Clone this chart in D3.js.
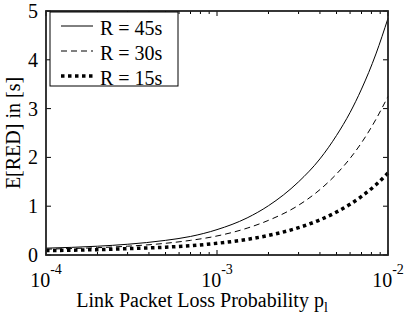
<!DOCTYPE html>
<html>
<head>
<meta charset="utf-8">
<script src="https://cdn.jsdelivr.net/npm/d3@7/dist/d3.min.js"></script>
<style>
  body { margin: 0; background: #fff; }
  svg text { font-family: "Liberation Serif", "Times New Roman", serif; fill: #000; }
</style>
</head>
<body>
<div id="chart"></div>
<script>
const pl = [1e-4, 2e-4, 3e-4, 5e-4, 7e-4, 1e-3, 1.5e-3, 2e-3, 3e-3, 4e-3, 5e-3, 6e-3, 7e-3, 8.5e-3, 1e-2];
const r45 = [0.14, 0.18, 0.22, 0.30, 0.38, 0.52, 0.76, 1.01, 1.50, 1.97, 2.45, 2.92, 3.40, 4.12, 4.85];
const r30 = [0.12, 0.15, 0.18, 0.24, 0.30, 0.39, 0.55, 0.71, 1.02, 1.34, 1.66, 1.98, 2.30, 2.78, 3.25];
const r15 = [0.09, 0.11, 0.13, 0.16, 0.19, 0.24, 0.32, 0.40, 0.56, 0.72, 0.88, 1.04, 1.20, 1.44, 1.68];
const yTicks = [0, 1, 2, 3, 4, 5];
const xTicks = [1e-4, 1e-3, 1e-2];

const series = [
    { label: "R = 45s", values: r45, width: 1, dash: null },
    { label: "R = 30s", values: r30, width: 1, dash: "6,4" },
    { label: "R = 15s", values: r15, width: 3.5, dash: "3.5,3.5" }
];

const width = 404, height = 324;
const margins = { top: 11, right: 16, bottom: 69, left: 46 };
const w = width - margins.left - margins.right;
const h = height - margins.top - margins.bottom;

const svg = d3.select("#chart").append("svg")
    .attr("width", width)
    .attr("height", height);

const g = svg.append("g")
    .attr("transform", `translate(${margins.left},${margins.top})`);

const x = d3.scaleLog().domain([1e-4, 1e-2]).range([0, w]);
const y = d3.scaleLinear().domain([0, 5]).range([h, 0]);

// minor ticks for the log axis
const minor = [];
[1e-4, 1e-3].forEach(d => { for (let k = 2; k <= 9; k++) minor.push(d * k); });

const ticks = g.append("g").attr("stroke", "#000").attr("stroke-width", 1);
xTicks.forEach(t => {
    ticks.append("line").attr("x1", x(t)).attr("x2", x(t)).attr("y1", h).attr("y2", h - 5);
    ticks.append("line").attr("x1", x(t)).attr("x2", x(t)).attr("y1", 0).attr("y2", 5);
});
minor.forEach(t => {
    ticks.append("line").attr("x1", x(t)).attr("x2", x(t)).attr("y1", h).attr("y2", h - 3);
    ticks.append("line").attr("x1", x(t)).attr("x2", x(t)).attr("y1", 0).attr("y2", 3);
});
yTicks.forEach(t => {
    ticks.append("line").attr("x1", 0).attr("x2", 5).attr("y1", y(t)).attr("y2", y(t));
    ticks.append("line").attr("x1", w).attr("x2", w - 5).attr("y1", y(t)).attr("y2", y(t));
});

// curves
const line = d3.line()
    .x((d, i) => x(pl[i]))
    .y(d => y(d))
    .curve(d3.curveMonotoneX);

series.forEach(s => {
    g.append("path")
        .attr("d", line(s.values))
        .attr("fill", "none")
        .attr("stroke", "#000")
        .attr("stroke-width", s.width)
        .attr("stroke-dasharray", s.dash);
});

// frame
g.append("rect")
    .attr("width", w).attr("height", h)
    .attr("fill", "none")
    .attr("stroke", "#222")
    .attr("stroke-width", 1.8);

// y tick labels
g.selectAll(".ylab")
    .data(yTicks)
    .enter().append("text")
    .attr("x", -8)
    .attr("y", d => y(d))
    .attr("dy", "0.35em")
    .attr("text-anchor", "end")
    .style("font-size", "20px")
    .text(d => d);

// x tick labels as 10^n
xTicks.forEach(t => {
    const txt = g.append("text")
        .attr("x", x(t))
        .attr("y", h + 32)
        .attr("text-anchor", "middle")
        .style("font-size", "20px");
    txt.append("tspan").text("10");
    txt.append("tspan").attr("dy", -13).style("font-size", "14px").text(Math.round(Math.log10(t)));
});

// axis titles
const xt = g.append("text")
    .attr("x", w / 2 - 15)
    .attr("y", h + 52)
    .attr("text-anchor", "middle")
    .style("font-size", "20px");
xt.append("tspan").text("Link Packet Loss Probability p");
xt.append("tspan").attr("dy", 5).style("font-size", "14px").text("l");

g.append("text")
    .attr("transform", `translate(${-26},${h / 2}) rotate(-90)`)
    .attr("text-anchor", "middle")
    .style("font-size", "20px")
    .text("E[RED] in [s]");

// legend
const legend = g.append("g").attr("transform", "translate(4,1)");
legend.append("rect")
    .attr("width", 128).attr("height", 74)
    .attr("fill", "#fff")
    .attr("stroke", "#000")
    .attr("stroke-width", 1);

legend.selectAll(".legend-item")
    .data(series)
    .enter().append("g")
    .attr("class", "legend-item")
    .attr("transform", (d, i) => `translate(0,${14 + i * 25})`)
    .each(function(d) {
        const item = d3.select(this);
        item.append("line")
            .attr("x1", 11).attr("x2", 43)
            .attr("stroke", "#000")
            .attr("stroke-width", d.width)
            .attr("stroke-dasharray", d.dash);
        item.append("text")
            .attr("x", 50)
            .attr("y", 9)
            .style("font-size", "20px")
            .text(d.label);
    });
</script>
</body>
</html>
